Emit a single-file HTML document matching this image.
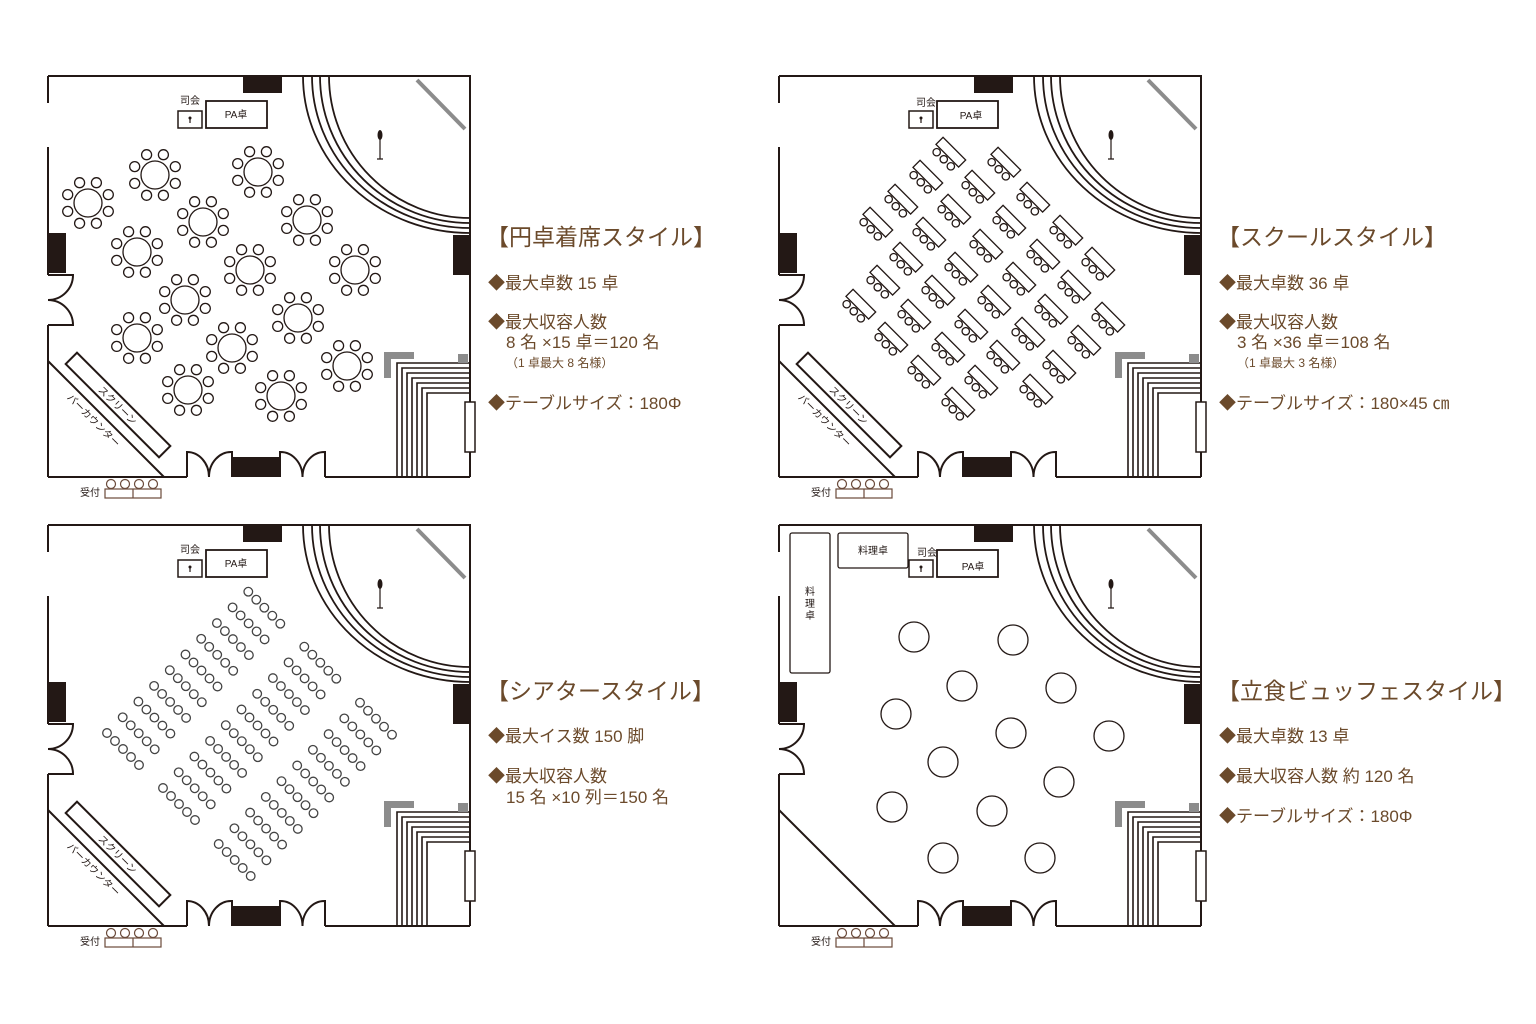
<!DOCTYPE html>
<html><head><meta charset="utf-8">
<style>
html,body{margin:0;padding:0;background:#fff;}
svg{display:block;}
.t{font-family:"Liberation Sans","Noto Sans CJK JP",sans-serif;fill:#231815;font-size:10px;}
.h{font-family:"Liberation Sans","Noto Sans CJK JP",sans-serif;fill:#6b4a2b;}
</style></head>
<body>
<svg width="1536" height="1024" viewBox="0 0 1536 1024" xmlns="http://www.w3.org/2000/svg">
<defs>
<g id="room">
 <g fill="none" stroke="#231815" stroke-width="2">
  <path d="M0,1 H422 V402 M0,1 V28 M0,72 V200 M0,250 V402 M0,402 H139 M277,402 H422"/>
  <path d="M0,200 H25 A25,25 0 0 1 0,225 M0,250 H25 A25,25 0 0 0 0,225"/>
  <path d="M139,402 V377 A22,25 0 0 1 161,402 M184,402 V377 A22,25 0 0 0 161,402"/>
  <path d="M232,402 V377 A22,25 0 0 1 254.5,402 M277,402 V377 A22,25 0 0 0 254.5,402"/>
  <path d="M255,1 A167,157 0 0 0 422,158 M264,1 A158,152 0 0 0 422,153 M272,1 A150,147 0 0 0 422,148 M281,1 A141,142 0 0 0 422,143" stroke-width="1.8"/>
  <path d="M349,402 V288 H422 M354,402 V293 H422 M359,402 V298 H422 M364,402 V303 H422 M369,402 V308 H422 M374,402 V313 H422 M379,402 V318 H422" stroke-width="1.6"/>
  <rect x="130" y="36" width="24" height="17" stroke-width="1.5"/>
  <rect x="158" y="26" width="61" height="27" stroke-width="1.8"/>
  <rect x="417" y="327" width="10" height="50" fill="#fff" stroke-width="1.5"/>
  <path d="M332,62 V84 M329,84 H335" stroke-width="1.2"/>
 </g>
 <ellipse cx="332" cy="60" rx="2.5" ry="5" fill="#231815"/>
 <circle cx="142" cy="43" r="1.5" fill="#231815"/>
 <path d="M142,44 V48" stroke="#231815" stroke-width="1.2"/>
 <rect x="195" y="2" width="39" height="16" fill="#231815"/>
 <rect x="0" y="158" width="18" height="40" fill="#231815"/>
 <rect x="405" y="160" width="17" height="40" fill="#231815"/>
 <rect x="184" y="382" width="48" height="20" fill="#231815"/>
 <line x1="369" y1="5" x2="417" y2="54" stroke="#8c8c8c" stroke-width="4"/>
 <polygon points="336,277 366,277 366,284 343,284 343,303 336,303" fill="#8c8c8c"/>
 <rect x="410" y="279" width="10" height="9" fill="#8c8c8c"/>
 <g fill="none" stroke="#6a4a3a" stroke-width="1.2">
  <circle cx="63" cy="409" r="4.5"/><circle cx="77" cy="409" r="4.5"/><circle cx="91" cy="409" r="4.5"/><circle cx="105" cy="409" r="4.5"/>
  <rect x="57" y="414" width="56" height="9"/><line x1="85" y1="414" x2="85" y2="423"/>
 </g>
</g>
<g id="scr" fill="none" stroke="#231815" stroke-width="2">
 <line x1="0" y1="286" x2="116" y2="402"/>
 <rect x="4" y="322" width="132" height="16" transform="rotate(45 70 330)"/>
</g>
<g id="rt" fill="#fff" stroke="#231815" stroke-width="1.3">
 <circle r="14"/>
 <circle cx="20.3" cy="8.4" r="5"/><circle cx="8.4" cy="20.3" r="5"/><circle cx="-8.4" cy="20.3" r="5"/><circle cx="-20.3" cy="8.4" r="5"/>
 <circle cx="-20.3" cy="-8.4" r="5"/><circle cx="-8.4" cy="-20.3" r="5"/><circle cx="8.4" cy="-20.3" r="5"/><circle cx="20.3" cy="-8.4" r="5"/>
</g>
<g id="su" fill="#fff" stroke="#231815" stroke-width="1.3">
 <g transform="rotate(45)">
  <rect x="-16" y="-9" width="32" height="10"/>
  <circle cx="-10" cy="6" r="3.7"/><circle cx="0" cy="6" r="3.7"/><circle cx="10" cy="6" r="3.7"/>
 </g>
</g>
<g id="tr" fill="#fff" stroke="#444" stroke-width="1.3">
 <circle r="4.3"/><circle cx="8" cy="8" r="4.3"/><circle cx="16" cy="16" r="4.3"/><circle cx="24" cy="24" r="4.3"/><circle cx="32" cy="32" r="4.3"/>
</g>
<g id="tb">
 <use href="#tr" x="0" y="0"/><use href="#tr" x="-15.7" y="15.7"/><use href="#tr" x="-31.4" y="31.4"/><use href="#tr" x="-47.1" y="47.1"/><use href="#tr" x="-62.8" y="62.8"/>
 <use href="#tr" x="-78.5" y="78.5"/><use href="#tr" x="-94.2" y="94.2"/><use href="#tr" x="-109.9" y="109.9"/><use href="#tr" x="-125.6" y="125.6"/><use href="#tr" x="-141.3" y="141.3"/>
</g>
</defs>

<g transform="translate(48,75)">
 <use href="#room"/><use href="#scr"/>
 <text class="t" x="142" y="29" text-anchor="middle">司会</text>
 <text class="t" x="188" y="43" text-anchor="middle">PA卓</text>
 <text class="t" x="42" y="421" text-anchor="middle">受付</text>
 <text class="t" font-size="11" x="70" y="334" text-anchor="middle" transform="rotate(45 70 330)">スクリーン</text>
 <text class="t" font-size="11" x="46" y="349" text-anchor="middle" transform="rotate(45 46 345)">バーカウンター</text>
</g>
<g>
 <use href="#rt" x="88" y="203"/><use href="#rt" x="155" y="175"/><use href="#rt" x="258" y="172"/>
 <use href="#rt" x="203" y="222"/><use href="#rt" x="307" y="220"/><use href="#rt" x="137" y="252"/>
 <use href="#rt" x="250" y="270"/><use href="#rt" x="355" y="270"/><use href="#rt" x="185" y="300"/>
 <use href="#rt" x="298" y="318"/><use href="#rt" x="137" y="338"/><use href="#rt" x="232" y="348"/>
 <use href="#rt" x="347" y="366"/><use href="#rt" x="188" y="390"/><use href="#rt" x="281" y="396"/>
</g>

<g transform="translate(779,75)">
 <use href="#room"/><use href="#scr"/>
 <text class="t" x="147" y="31" text-anchor="middle">司会</text>
 <text class="t" x="192" y="44" text-anchor="middle">PA卓</text>
 <text class="t" x="42" y="421" text-anchor="middle">受付</text>
 <text class="t" font-size="11" x="70" y="334" text-anchor="middle" transform="rotate(45 70 330)">スクリーン</text>
 <text class="t" font-size="11" x="46" y="349" text-anchor="middle" transform="rotate(45 46 345)">バーカウンター</text>
</g>
<g>
 <use href="#su" x="948" y="155"/><use href="#su" x="925" y="178"/><use href="#su" x="900" y="202"/><use href="#su" x="875" y="225"/>
 <use href="#su" x="1003" y="165"/><use href="#su" x="977" y="188"/><use href="#su" x="953" y="212"/><use href="#su" x="928" y="235"/><use href="#su" x="905" y="260"/><use href="#su" x="882" y="283"/><use href="#su" x="858" y="307"/>
 <use href="#su" x="1032" y="200"/><use href="#su" x="1008" y="223"/><use href="#su" x="985" y="247"/><use href="#su" x="960" y="270"/><use href="#su" x="937" y="293"/><use href="#su" x="913" y="317"/><use href="#su" x="890" y="340"/>
 <use href="#su" x="1065" y="233"/><use href="#su" x="1042" y="257"/><use href="#su" x="1018" y="280"/><use href="#su" x="993" y="303"/><use href="#su" x="970" y="327"/><use href="#su" x="947" y="350"/><use href="#su" x="923" y="373"/>
 <use href="#su" x="1097" y="265"/><use href="#su" x="1073" y="288"/><use href="#su" x="1050" y="312"/><use href="#su" x="1027" y="335"/><use href="#su" x="1002" y="358"/><use href="#su" x="980" y="383"/><use href="#su" x="957" y="405"/>
 <use href="#su" x="1107" y="320"/><use href="#su" x="1083" y="343"/><use href="#su" x="1058" y="368"/><use href="#su" x="1035" y="392"/>
</g>

<g transform="translate(48,524)">
 <use href="#room"/><use href="#scr"/>
 <text class="t" x="142" y="29" text-anchor="middle">司会</text>
 <text class="t" x="188" y="43" text-anchor="middle">PA卓</text>
 <text class="t" x="42" y="421" text-anchor="middle">受付</text>
 <text class="t" font-size="11" x="70" y="334" text-anchor="middle" transform="rotate(45 70 330)">スクリーン</text>
 <text class="t" font-size="11" x="46" y="349" text-anchor="middle" transform="rotate(45 46 345)">バーカウンター</text>
</g>
<use href="#tb" x="248.3" y="591.7"/>
<use href="#tb" x="304.3" y="646.7"/>
<use href="#tb" x="360" y="702.7"/>

<g transform="translate(779,524)">
 <use href="#room"/>
 <line x1="0" y1="286" x2="116" y2="402" stroke="#231815" stroke-width="2"/>
 <rect x="11" y="9" width="40" height="140" rx="2" fill="none" stroke="#231815" stroke-width="1.3"/>
 <rect x="59" y="9" width="70" height="35" rx="2" fill="none" stroke="#231815" stroke-width="1.3"/>
 <text class="t" x="94" y="30" text-anchor="middle">料理卓</text>
 <text class="t" x="31" y="71" text-anchor="middle">料</text>
 <text class="t" x="31" y="83" text-anchor="middle">理</text>
 <text class="t" x="31" y="95" text-anchor="middle">卓</text>
 <text class="t" x="148" y="32" text-anchor="middle">司会</text>
 <text class="t" x="194" y="46" text-anchor="middle">PA卓</text>
 <text class="t" x="42" y="421" text-anchor="middle">受付</text>
</g>
<g fill="#fff" stroke="#231815" stroke-width="1.3">
 <circle cx="914" cy="637" r="15"/><circle cx="1013" cy="640" r="15"/><circle cx="962" cy="686" r="15"/>
 <circle cx="1061" cy="688" r="15"/><circle cx="896" cy="714" r="15"/><circle cx="1011" cy="733" r="15"/>
 <circle cx="1109" cy="736" r="15"/><circle cx="943" cy="762" r="15"/><circle cx="1059" cy="782" r="15"/>
 <circle cx="892" cy="807" r="15"/><circle cx="992" cy="811" r="15"/><circle cx="943" cy="858" r="15"/>
 <circle cx="1040" cy="858" r="15"/>
</g>

<g class="h">
 <text x="486" y="245" font-size="23">【円卓着席スタイル】</text>
 <text x="488" y="289" font-size="17">◆最大卓数 15 卓</text>
 <text x="488" y="328" font-size="17">◆最大収容人数</text>
 <text x="506" y="348" font-size="17">8 名 ×15 卓＝120 名</text>
 <text x="506" y="367" font-size="12">（1 卓最大 8 名様）</text>
 <text x="488" y="409" font-size="17">◆テーブルサイズ：180Φ</text>

 <text x="1217" y="245" font-size="23">【スクールスタイル】</text>
 <text x="1219" y="289" font-size="17">◆最大卓数 36 卓</text>
 <text x="1219" y="328" font-size="17">◆最大収容人数</text>
 <text x="1237" y="348" font-size="17">3 名 ×36 卓＝108 名</text>
 <text x="1237" y="367" font-size="12">（1 卓最大 3 名様）</text>
 <text x="1219" y="409" font-size="17">◆テーブルサイズ：180×45 ㎝</text>

 <text x="486" y="699" font-size="23">【シアタースタイル】</text>
 <text x="488" y="742" font-size="17">◆最大イス数 150 脚</text>
 <text x="488" y="782" font-size="17">◆最大収容人数</text>
 <text x="506" y="803" font-size="17">15 名 ×10 列＝150 名</text>

 <text x="1217" y="699" font-size="23">【立食ビュッフェスタイル】</text>
 <text x="1219" y="742" font-size="17">◆最大卓数 13 卓</text>
 <text x="1219" y="782" font-size="17">◆最大収容人数  約 120 名</text>
 <text x="1219" y="822" font-size="17">◆テーブルサイズ：180Φ</text>
</g>
</svg>
</body></html>
